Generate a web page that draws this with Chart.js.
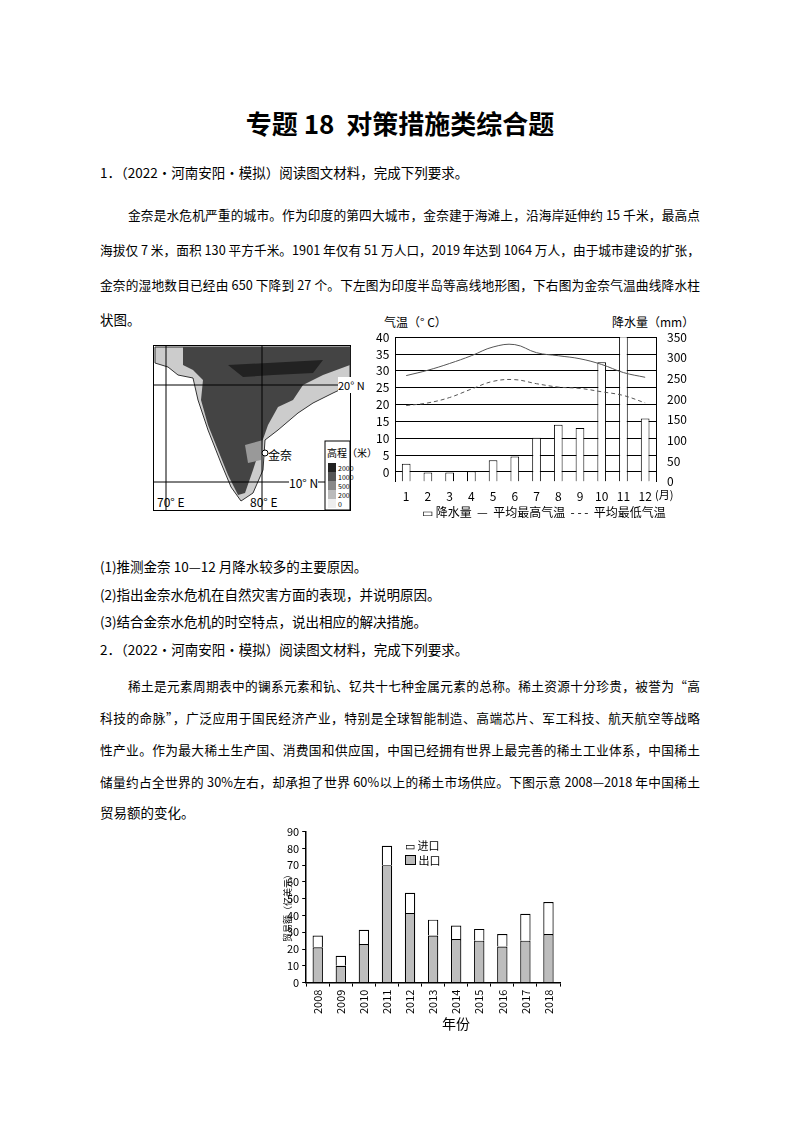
<!DOCTYPE html>
<html><head><meta charset="utf-8">
<script src="https://cdn.jsdelivr.net/npm/chart.js@4/dist/chart.umd.min.js"></script>
<style>
body{margin:0;width:800px;height:1132px;background:#fff;position:relative;font-family:"Noto Sans CJK SC",sans-serif;color:#000;overflow:hidden}
.t{position:absolute;font-size:13.5px;white-space:nowrap}
.j{width:600px;text-align:justify;text-align-last:justify;white-space:normal;left:100px;font-size:12.7px}
#title{position:absolute;top:104px;left:0;width:800px;text-align:center;font-size:26px;font-weight:bold}
.s{position:absolute;font-size:11px;white-space:nowrap}
</style></head><body>
<div id="title">专题 18 &nbsp;对策措施类综合题</div>
<div class="t" style="left:100px;top:162px">1．（2022·河南安阳·模拟）阅读图文材料，完成下列要求。</div>
<div class="t j" style="top:205px;padding-left:28px;width:572px">金奈是水危机严重的城市。作为印度的第四大城市，金奈建于海滩上，沿海岸延伸约 15 千米，最高点</div>
<div class="t j" style="top:240px">海拔仅 7 米，面积 130 平方千米。1901 年仅有 51 万人口，2019 年达到 1064 万人，由于城市建设的扩张，</div>
<div class="t j" style="top:275px">金奈的湿地数目已经由 650 下降到 27 个。下左图为印度半岛等高线地形图，下右图为金奈气温曲线降水柱</div>
<div class="t" style="left:100px;top:309px">状图。</div>

<svg style="position:absolute;left:153px;top:345px" width="198" height="166">
<rect x="0.5" y="0.5" width="197" height="165" fill="#fff" stroke="#000"/>
<path d="M2,2 L197,2 L197,40 L180,48 L160,58 L145,68 L125,85 L112,95 L110,125 L100,148 L88,156 L78,142 L68,118 L55,85 L45,55 L40,33 L25,30 L15,22 L2,18 Z" fill="#ccc" stroke="#333" stroke-width="1"/>
<path d="M30,2 L197,2 L197,20 L170,30 L150,40 L140,55 L125,62 L115,80 L108,100 L100,125 L92,148 L85,150 L75,130 L65,105 L55,80 L48,55 L50,35 L40,25 L30,20 Z" fill="#444"/>
<path d="M75,20 L170,15 L160,28 L120,30 L90,32 Z" fill="#222"/>
<path d="M92,100 L110,95 L108,115 L95,118 Z" fill="#999"/>
<line x1="0" y1="40" x2="198" y2="40" stroke="#000"/>
<line x1="0" y1="137" x2="198" y2="137" stroke="#000"/>
<line x1="13" y1="0" x2="13" y2="166" stroke="#000"/>
<line x1="109" y1="0" x2="109" y2="166" stroke="#000"/>
<circle cx="112" cy="108" r="3" fill="#fff" stroke="#000"/>
<rect x="172" y="96" width="25" height="69" fill="#fff" stroke="#000"/>
<rect x="175" y="118" width="8" height="9" fill="#222"/><rect x="175" y="127" width="8" height="9" fill="#555"/>
<rect x="175" y="136" width="8" height="9" fill="#888"/><rect x="175" y="145" width="8" height="9" fill="#bbb"/>
<rect x="175" y="154" width="8" height="9" fill="#eee"/>
</svg>
<div class="s" style="left:338px;top:377px;background:#fff">20° N</div>
<div class="s" style="left:268px;top:446px;font-size:12px">金奈</div>
<div class="s" style="left:289px;top:474px;font-size:12px;background:#fff">10° N</div>
<div class="s" style="left:157px;top:493px;font-size:12px">70° E</div>
<div class="s" style="left:250px;top:493px;font-size:12px">80° E</div>
<div class="s" style="left:327px;top:445px;font-size:10px">高程（米）</div>
<div class="s" style="left:338px;top:464px;font-size:7px;line-height:9px">2000<br>1000<br>500<br>200<br>0</div>

<div class="s" style="left:384px;top:313px;font-size:12px">气温（° C）</div>
<div class="s" style="left:612px;top:313px;font-size:12px">降水量（mm）</div>
<canvas id="c1" style="position:absolute;left:370px;top:324px" width="320" height="180"></canvas>
<div class="s" style="left:655px;top:486px;font-size:11px">(月)</div>
<div class="s" style="left:422px;top:503px;font-size:12px">▭ 降水量 &nbsp;— &nbsp;平均最高气温 &nbsp;- - - &nbsp;平均最低气温</div>

<div class="t" style="left:100px;top:556px">(1)推测金奈 10—12 月降水较多的主要原因。</div>
<div class="t" style="left:100px;top:584px">(2)指出金奈水危机在自然灾害方面的表现，并说明原因。</div>
<div class="t" style="left:100px;top:611px">(3)结合金奈水危机的时空特点，说出相应的解决措施。</div>
<div class="t" style="left:100px;top:639px">2．（2022·河南安阳·模拟）阅读图文材料，完成下列要求。</div>
<div class="t j" style="top:676px;padding-left:28px;width:572px">稀土是元素周期表中的镧系元素和钪、钇共十七种金属元素的总称。稀土资源十分珍贵，被誉为“高</div>
<div class="t j" style="top:708px">科技的命脉”，广泛应用于国民经济产业，特别是全球智能制造、高端芯片、军工科技、航天航空等战略</div>
<div class="t j" style="top:740px">性产业。作为最大稀土生产国、消费国和供应国，中国已经拥有世界上最完善的稀土工业体系，中国稀土</div>
<div class="t j" style="top:772px">储量约占全世界的 30%左右，却承担了世界 60%以上的稀土市场供应。下图示意 2008—2018 年中国稀土</div>
<div class="t" style="left:100px;top:802px">贸易额的变化。</div>

<canvas id="c2" style="position:absolute;left:270px;top:822px" width="300" height="195"></canvas>
<div class="s" style="transform:rotate(-90deg);transform-origin:0 0;top:942px;left:281px;font-size:9px">贸易额（亿美元）</div>
<div class="s" style="left:405px;top:837px;font-size:11px">▭ 进口</div>
<div class="s" style="left:405px;top:852px;font-size:11px"><span style="display:inline-block;width:9px;height:8px;background:#bbb;border:1px solid #000"></span> 出口</div>
<div class="s" style="left:442px;top:1013px;font-size:14px">年份</div>

<script>
// climate chart (Chennai)
const months = ['1','2','3','4','5','6','7','8','9','10','11','12'];
const rain = [43, 22, 22, 25, 52, 61, 106, 138, 130, 289, 380, 153];
const tMax = [28.6, 30.2, 32.2, 34.5, 37.1, 37.8, 35.4, 34.5, 33.6, 31.9, 29.5, 28.1];
const tMin = [19.7, 20.5, 22.1, 24.6, 26.9, 27.4, 26.2, 25.2, 24.8, 23.8, 22.7, 20.5];
const tempTicks = [0, 5, 10, 15, 20, 25, 30, 35, 40];

// rare earth trade (100 million USD)
const years = ['2008','2009','2010','2011','2012','2013','2014','2015','2016','2017','2018'];
const exportVal = [21, 10, 23, 70, 41.5, 28, 26, 25, 21.5, 25, 29];
const importVal = [7, 6, 8.5, 11.5, 12, 9.5, 8, 7, 7.5, 16, 19];

Chart.defaults.font.family = '"Noto Sans CJK SC", sans-serif';
Chart.defaults.color = '#000';
Chart.defaults.animation = false;

new Chart(document.getElementById('c1'), {
  data: {
    labels: months,
    datasets: [
      {type:'line', data:tMax, yAxisID:'yT', borderColor:'#555', borderWidth:1, pointRadius:0, tension:0.4},
      {type:'line', data:tMin, yAxisID:'yT', borderColor:'#555', borderWidth:1, borderDash:[4,3], pointRadius:0, tension:0.4},
      {type:'bar', data:rain, yAxisID:'yR', backgroundColor:'#fff', borderColor:'#000', borderWidth:1, categoryPercentage:0.8, barPercentage:0.5}
    ]
  },
  options: {
    responsive:false,
    layout:{padding:{left:0,right:0,top:8,bottom:0}},
    plugins:{legend:{display:false}, tooltip:{enabled:false}},
    scales:{
      x:{grid:{display:false}, border:{display:false}, ticks:{font:{size:12}, padding:0}},
      yT:{position:'left', min:-2.86, max:40,
        afterBuildTicks:a=>{a.ticks = tempTicks.map(v=>({value:v}));},
        grid:{color:'#000', lineWidth:1, drawTicks:false}, border:{color:'#000'},
        ticks:{font:{size:12}, padding:6}},
      yR:{position:'right', min:0, max:350, ticks:{stepSize:50, font:{size:12}},
        grid:{display:false}, border:{color:'#000'}}
    }
  }
});

new Chart(document.getElementById('c2'), {
  type:'bar',
  data:{
    labels: years,
    datasets:[
      {label:'出口', data:exportVal, backgroundColor:'#bdbdbd', borderColor:'#000', borderWidth:1.2, barPercentage:0.5, categoryPercentage:0.9},
      {label:'进口', data:importVal, backgroundColor:'#fff', borderColor:'#000', borderWidth:1.2, barPercentage:0.5, categoryPercentage:0.9}
    ]
  },
  options:{
    responsive:false,
    layout:{padding:{left:14,right:10,top:6}},
    plugins:{legend:{display:false}, tooltip:{enabled:false}},
    scales:{
      x:{stacked:true, grid:{display:true, drawOnChartArea:false, offset:true, color:'#000', tickLength:4},
        border:{color:'#000', width:1.5}, ticks:{minRotation:90, maxRotation:90, font:{size:11}}},
      y:{stacked:true, min:0, max:90, ticks:{stepSize:10, font:{size:11}},
        grid:{drawOnChartArea:false, color:'#000', tickLength:4}, border:{color:'#000', width:1.5}}
    }
  }
});
</script>
</body></html>
